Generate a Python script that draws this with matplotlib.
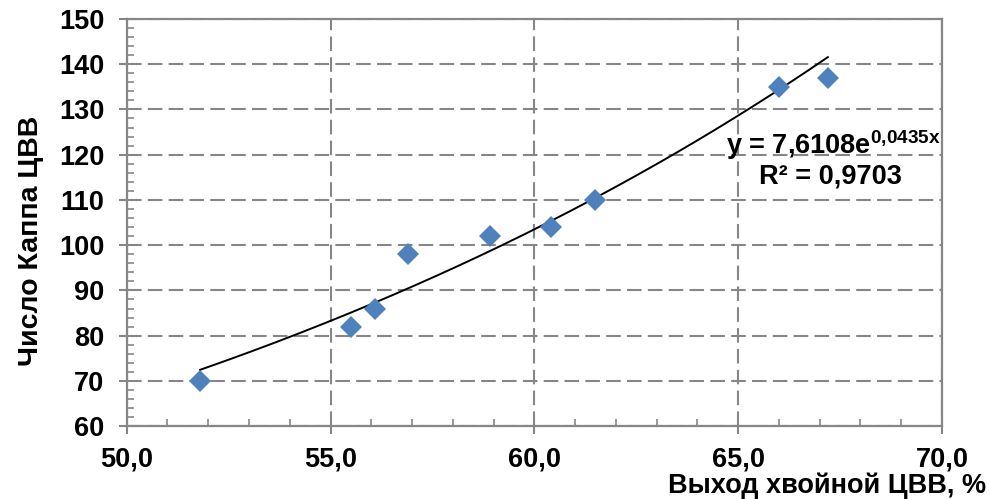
import numpy as np
import matplotlib.pyplot as plt
from matplotlib.ticker import MultipleLocator, FuncFormatter

plt.rcParams['font.family'] = ['Liberation Sans', 'DejaVu Sans']
plt.rcParams['font.weight'] = 'bold'
plt.rcParams['mathtext.fontset'] = 'custom'
plt.rcParams['mathtext.rm'] = 'Liberation Sans:bold'
plt.rcParams['mathtext.bf'] = 'Liberation Sans:bold'
plt.rcParams['mathtext.it'] = 'Liberation Sans:bold'

# yield of softwood pulp, %  vs kappa number
yield_pct = [51.8, 55.5, 56.1, 56.9, 58.9, 60.4, 61.5, 66.0, 67.2]
kappa = [70, 82, 86, 98, 102, 104, 110, 135, 137]

# exponential trend y = a*exp(b*x)
coef_a = 7.6108
coef_b = 0.0435
r2_label = "0,9703"

GRID = '#868686'
FS = 19.5

fig = plt.figure(figsize=(9.9, 4.99), dpi=100)
ax = fig.add_axes([0.128, 0.146, 0.8235, 0.816])

ax.plot(yield_pct, kappa, 'D', color='#4F81BD', markersize=10.7, markeredgewidth=0, zorder=4)

xs = np.linspace(min(yield_pct), max(yield_pct), 200)
ax.plot(xs, coef_a * np.exp(coef_b * xs), color='black', lw=1.4, zorder=3)

ax.set_xlim(50, 70)
ax.set_ylim(60, 150)
ax.xaxis.set_major_locator(MultipleLocator(5))
ax.xaxis.set_minor_locator(MultipleLocator(1))
ax.yaxis.set_major_locator(MultipleLocator(10))
ax.yaxis.set_minor_locator(MultipleLocator(2))
ax.xaxis.set_major_formatter(FuncFormatter(lambda v, p: f"{v:.1f}".replace('.', ',')))

ax.grid(True, which='major', color=GRID, linestyle=(0, (7, 3)), lw=1.5)
ax.set_axisbelow(True)
for s in ax.spines.values():
    s.set_color(GRID)
    s.set_linewidth(1.6)

ax.tick_params(which='major', direction='out', length=6, width=1.5, color=GRID,
               labelsize=FS)
ax.tick_params(which='minor', direction='in', length=5, width=1.2, color=GRID)
ax.tick_params(axis='x', which='major', pad=9)
ax.tick_params(axis='y', which='major', pad=10)

fig.text(31 / 990, 1 - 241 / 499, 'Число Каппа ЦВВ', fontsize=20.5, fontweight='bold',
         rotation=90, ha='center', va='center')
fig.text(0.996, 1 - 493 / 499, 'Выход хвойной ЦВВ, %', fontsize=FS, fontweight='bold',
         ha='right', va='baseline')

ax.text(0.735, 0.69,
        r'y = 7,6108e$^{\mathrm{0{,}0435x}}$',
        transform=ax.transAxes, fontsize=FS, fontweight='bold', ha='left', va='center')
ax.text(0.776, 0.612, 'R² = ' + r2_label,
        transform=ax.transAxes, fontsize=FS, fontweight='bold', ha='left', va='center')

fig.savefig('out.png', dpi=100)
